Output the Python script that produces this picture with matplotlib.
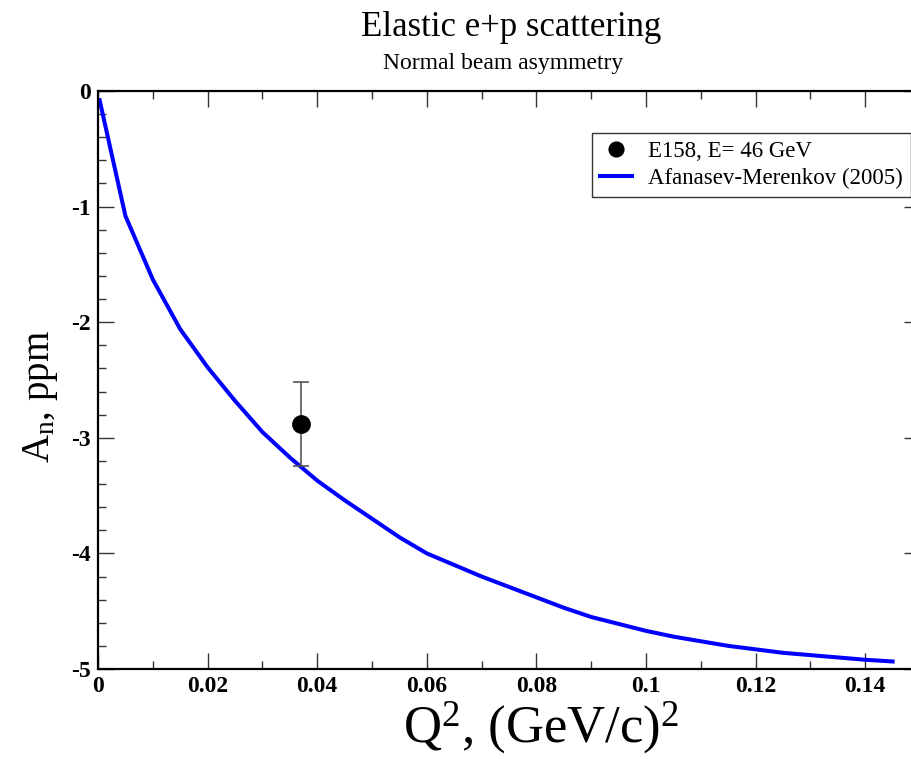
import matplotlib
matplotlib.use("Agg")
import matplotlib.pyplot as plt
from matplotlib.ticker import MultipleLocator, FixedLocator

plt.rcParams['font.family'] = ['Liberation Serif', 'DejaVu Serif']
plt.rcParams['mathtext.fontset'] = 'custom'
plt.rcParams['mathtext.rm'] = 'Liberation Serif'
plt.rcParams['mathtext.it'] = 'Liberation Serif:italic'
plt.rcParams['mathtext.bf'] = 'Liberation Serif:bold'

# Theory curve (Afanasev-Merenkov 2005)
q2_theory = [0.0003, 0.005, 0.010, 0.015, 0.020, 0.025, 0.030, 0.035, 0.040,
             0.045, 0.050, 0.055, 0.060, 0.065, 0.070, 0.075, 0.080, 0.085,
             0.090, 0.095, 0.100, 0.105, 0.110, 0.115, 0.120, 0.125, 0.130,
             0.135, 0.140, 0.145]
an_theory = [-0.08, -1.08, -1.63, -2.06, -2.39, -2.68, -2.95, -3.17, -3.37,
             -3.54, -3.70, -3.86, -4.00, -4.10, -4.20, -4.29, -4.38, -4.47,
             -4.55, -4.61, -4.67, -4.72, -4.76, -4.80, -4.83, -4.86, -4.88,
             -4.90, -4.92, -4.935]

# E158 data point
q2_data = [0.037]
an_data = [-2.88]
an_err = [0.36]

x_ticks = [0, 0.02, 0.04, 0.06, 0.08, 0.1, 0.12, 0.14]
x_ticklabels = ["0", "0.02", "0.04", "0.06", "0.08", "0.1", "0.12", "0.14"]
y_ticks = [-5, -4, -3, -2, -1, 0]
y_ticklabels = ["-5", "-4", "-3", "-2", "-1", "0"]

W, H = 911, 759
fig = plt.figure(figsize=(W / 100, H / 100), dpi=100)
ax = fig.add_axes([98 / W, 1 - 669 / H, (920 - 98) / W, (669 - 91) / H])

ax.plot(q2_theory, an_theory, color='#0000ff', lw=2.9,
        label='Afanasev-Merenkov (2005)', zorder=2)
ax.errorbar(q2_data, an_data, yerr=an_err, fmt='none', ecolor='#555555',
            elinewidth=1.2, capsize=6, capthick=1.2, zorder=3)
ax.plot(q2_data, an_data, 'o', color='black', ms=12.5,
        label='E158, E= 46 GeV', zorder=4, linestyle='none')

ax.set_xlim(0, 0.15)
ax.set_ylim(-5, 0)
ax.xaxis.set_major_locator(FixedLocator(x_ticks))
ax.set_xticklabels(x_ticklabels)
ax.xaxis.set_minor_locator(MultipleLocator(0.01))
ax.yaxis.set_major_locator(FixedLocator(y_ticks))
ax.set_yticklabels(y_ticklabels)
ax.yaxis.set_minor_locator(MultipleLocator(0.2))

ax.tick_params(which='both', direction='in', top=True, right=True,
               color='#333333')
ax.tick_params(which='major', length=11.5, width=1.0, labelsize=17, pad=5)
ax.tick_params(which='minor', length=5.8, width=1.0)
for lab in ax.get_xticklabels() + ax.get_yticklabels():
    lab.set_fontweight('bold')
for sp in ax.spines.values():
    sp.set_linewidth(1.6)

fig.text(511 / W, 1 - 27 / H, 'Elastic e+p scattering', ha='center',
         va='center', fontsize=25)
fig.text(503 / W, 1 - 64 / H, 'Normal beam asymmetry', ha='center',
         va='center', fontsize=17)

fig.text(40 / W, 1 - 396 / H, r'A$_{\mathrm{n}}$, ppm', rotation=90,
         ha='center', va='center', fontsize=28)
fig.text(541 / W, 1 - 742 / H, r'Q$^{2}$, (GeV/c)$^{2}$', ha='center',
         va='baseline', fontsize=38)

handles, labels = ax.get_legend_handles_labels()
order = [1, 0]
leg = ax.legend([handles[i] for i in order], [labels[i] for i in order],
                loc='upper left', bbox_to_anchor=(592 / W, 1 - 133 / H),
                bbox_transform=fig.transFigure, borderaxespad=0,
                fontsize=16.5, frameon=True, fancybox=False, handlelength=1.4,
                handletextpad=0.7, borderpad=0.35, labelspacing=0.25,
                markerscale=0.85)
leg.get_frame().set_edgecolor('black')
leg.get_frame().set_linewidth(1.0)

fig.savefig('out.png', dpi=100)
